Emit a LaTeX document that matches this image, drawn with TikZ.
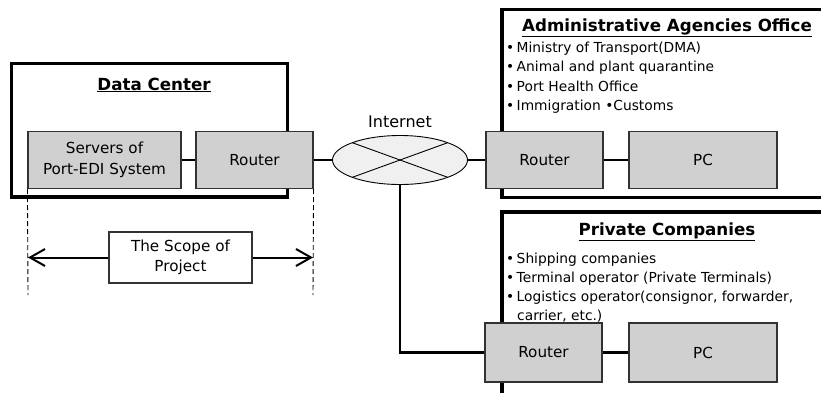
\documentclass[tikz,border=0pt]{standalone}
\usepackage{fontspec}
\setmainfont{DejaVu Sans}
\usetikzlibrary{arrows.meta,shapes.geometric,calc}
\definecolor{boxgrey}{RGB}{208,208,208}
\definecolor{netgrey}{RGB}{240,240,240}
\definecolor{edgegrey}{RGB}{50,50,50}
\newcommand{\bul}{•}
\begin{document}
\begin{tikzpicture}[x=1pt,y=-1pt,
  frame/.style={line width=3.4pt,black},
  link/.style={line width=2.5pt,black},
  devbox/.style={draw=edgegrey,line width=1.1pt,fill=boxgrey,inner sep=0pt,
    align=center,font=\fontsize{15.2}{21.5}\selectfont},
  ttl/.style={anchor=base,font=\fontsize{16.7}{20}\selectfont\bfseries},
  item/.style={anchor=base west,inner sep=0pt,font=\fontsize{13.8}{19}\selectfont},
  guide/.style={line width=0.9pt,dash pattern=on 5pt off 3pt},
  scopearrow/.style={line width=2pt,-{Straight Barb[length=15pt,width=17pt,line width=2pt]}}
]
\useasboundingbox (0,0) rectangle (821,392);

% outer frames
\draw[frame] (11.5,63.5) rectangle (287.5,197);
\draw[frame] (830,9.5) -- (502,9.5) -- (502,197.5) -- (830,197.5);
\draw[frame] (830,212) -- (502,212) -- (502,400);

% titles
\node[ttl] (dctitle) at (154,90) {\underline{Data Center}};
\node[ttl] (aotitle) at (667,31) {\underline{Administrative Agencies Office}};
\node[ttl] (pctitle) at (667,235) {\underline{Private Companies}};

% member lists
\node[item] (a1) at (506,52) {\bul\hspace{2.4pt}Ministry of Transport(DMA)};
\node[item] (a2) at (506,71.5) {\bul\hspace{2.4pt}Animal and plant quarantine};
\node[item] (a3) at (506,91) {\bul\hspace{2.4pt}Port Health Office};
\node[item] (a4) at (506,110) {\bul\hspace{2.4pt}Immigration \bul Customs};
\node[item] (p1) at (506,263) {\bul\hspace{2.4pt}Shipping companies};
\node[item] (p2) at (506,282) {\bul\hspace{2.4pt}Terminal operator (Private Terminals)};
\node[item] (p3) at (506,301) {\bul\hspace{2.4pt}Logistics operator(consignor, forwarder,};
\node[item] (p4) at (517,320) {carrier, etc.)};

% internet cloud
\node[ellipse,draw=black,line width=0.9pt,fill=netgrey,minimum width=135pt,
  minimum height=49pt,inner sep=0pt] (net) at (400,160) {};
\node[anchor=base,font=\fontsize{16}{20}\selectfont] (netlabel) at (400,127) {Internet};
\draw[line width=0.9pt] ($(net.center)+(135:67.5pt and 24.5pt)$) -- ($(net.center)+(-45:67.5pt and 24.5pt)$);
\draw[line width=0.9pt] ($(net.center)+(-135:67.5pt and 24.5pt)$) -- ($(net.center)+(45:67.5pt and 24.5pt)$);

% devices
\node[devbox,minimum width=153pt,minimum height=57pt] (srv) at (104.5,160) {Servers of\\Port-EDI System};
\node[devbox,minimum width=117pt,minimum height=57pt] (r1) at (254.5,160) {Router};
\node[devbox,minimum width=117pt,minimum height=57pt] (r2) at (544.5,160) {Router};
\node[devbox,minimum width=148pt,minimum height=57pt] (pc2) at (703,160) {PC};
\node[devbox,minimum width=117pt,minimum height=59pt] (r3) at (543.5,352.5) {Router};
\node[devbox,minimum width=148pt,minimum height=59pt] (pc3) at (703,352.5) {PC};

% network links
\draw[link] (srv.east) -- (r1.west);
\draw[link] (r1.east) -- (net.west);
\draw[link] (net.east) -- (r2.west);
\draw[link] (r2.east) -- (pc2.west);
\draw[link] (net.south) |- (r3.west);
\draw[link] (r3.east) -- (pc3.west);

% scope of project
\coordinate (gl) at (28,295);
\coordinate (gr) at (313,295);
\draw[guide] (srv.south west) -- (gl);
\draw[guide] (r1.south east) -- (gr);
\node[draw=edgegrey,line width=1.1pt,fill=white,minimum width=143pt,minimum height=51pt,
  inner sep=0pt,align=center,font=\fontsize{15.2}{20}\selectfont] (scope) at (180.5,257.5)
  {The Scope of\\Project};
\coordinate (al) at (28,257.5);
\coordinate (ar) at (313,257.5);
\draw[scopearrow] (scope.west) -- (al);
\draw[scopearrow] (scope.east) -- (ar);
\end{tikzpicture}
\end{document}
